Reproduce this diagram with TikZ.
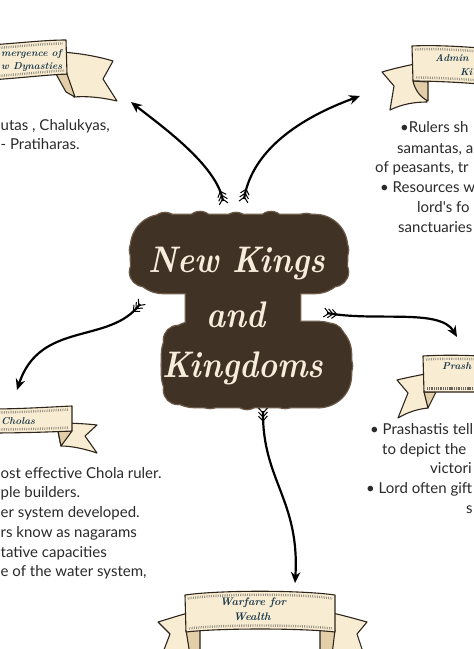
\documentclass[tikz,border=0pt]{standalone}
\usepackage{fontspec}
\newfontfamily\bodyfont{Lato}
\usetikzlibrary{arrows.meta,decorations.markings}
\definecolor{blob}{HTML}{413226}
\definecolor{blobrim}{HTML}{6E5C4B}
\definecolor{cream}{HTML}{F6EEDA}
\definecolor{parch}{HTML}{F8EDD2}
\definecolor{parchdark}{HTML}{E2CFA9}
\definecolor{inkline}{HTML}{2E251C}
\definecolor{bannertext}{HTML}{1F3B4D}
\definecolor{bodytext}{HTML}{2A2A2A}
\newcommand\fletchmark{\draw[line width=1pt,-] (-5pt,4.5pt) -- (0pt,0pt) -- (-5pt,-4.5pt);}
\newcommand\blobpieces[1]{%
  \path[#1,rounded corners=32pt] (131,215) rectangle (347,293);
  \path[#1,rounded corners=32pt] (162,322) rectangle (351,407);
  \path[#1,rounded corners=8pt] (186,280) rectangle (300,338);
  \foreach \bx/\by/\br in {165/227/14,200/226/14,236/227/14,271/226/14,306/228/14,
                           144/250/14,144/272/14,334/250/14,334/272/14,
                           178/340/14,212/336/12,330/338/14,176/365/14,178/390/14,
                           210/394/14,247/395/14,285/394/14,320/393/14,338/366/14}
    {\path[#1] (\bx,\by) circle (\br pt);}
}
\tikzset{
  conn/.style={line width=2.2pt, -{Stealth[length=11pt,width=9.5pt]},
    postaction={decorate},
    decoration={markings,
      mark=at position 2pt with {\fletchmark},
      mark=at position 6pt with {\fletchmark},
      mark=at position 10pt with {\fletchmark}}},
  ribbon/.style={fill=parch, draw=inkline, line width=1.1pt, line join=round},
  ribbonfold/.style={fill=parchdark, draw=inkline, line width=1.1pt, line join=round},
  hatch/.style={draw=inkline!70, line width=2.4pt, dash pattern=on 0.5pt off 1.3pt},
  bantxt/.style={font=\fontsize{10}{12}\selectfont\bfseries\itshape, text=bannertext, inner sep=0pt},
  bodytxt/.style={font=\bodyfont\fontsize{15}{18}\selectfont, text=bodytext, inner sep=0pt},
  titletxt/.style={font=\fontsize{37}{40}\selectfont\bfseries\itshape, text=cream, inner sep=0pt},
}
\begin{document}
\begin{tikzpicture}[x=1pt,y=-1pt]
\useasboundingbox (0,0) rectangle (474,649);
\fill[white] (0,0) rectangle (474,649);
\clip (0,0) rectangle (474,649);

% ---------- central title blob ----------
\blobpieces{draw=blobrim,line width=2.6pt}
\blobpieces{fill=blob}
\node[titletxt,anchor=base] (title1) at (237,272) {\scalebox{0.87}[1]{New Kings}};
\node[titletxt,anchor=base] (title2) at (236,327) {\scalebox{0.87}[1]{and}};
\node[titletxt,anchor=base] (title3) at (243,377) {\scalebox{0.87}[1]{Kingdoms}};

% ---------- banner A: Emergence of New Dynasties (top left) ----------
\path[ribbon] (60,52) .. controls (80,53) and (100,57) .. (113,61) -- (103,79) -- (117,101)
  .. controls (100,97) and (85,96) .. (74,97) -- (62,78) -- cycle;
\path[ribbonfold] (56,74) -- (67,74) -- (75,97) -- (66,92) -- cycle;
\path[ribbon] (-10,45) .. controls (20,43) and (45,40) .. (66,40) -- (67,74)
  .. controls (45,75) and (20,78) .. (-10,80) -- cycle;
\draw[hatch] (-10,48.5) .. controls (20,46.5) and (45,43.5) .. (63,43.5);
\draw[hatch] (-10,76.5) .. controls (20,74.5) and (45,71.5) .. (64,70.5);
\node[bantxt,anchor=west] (banA1) at (1,54) {mergence of};
\node[bantxt,anchor=west] (banA2) at (1,67) {w Dynasties};

% ---------- banner B: Administration (top right) ----------
\path[ribbon] (415,64) .. controls (405,66) and (392,69) .. (382,72) -- (394,86) -- (390,110)
  .. controls (402,104) and (415,102) .. (427,102) -- (420,80) -- cycle;
\path[ribbonfold] (413,81) .. controls (415,90) and (420,97) .. (428,101) -- (428,82) -- cycle;
\path[ribbon] (412,46) .. controls (430,45) and (455,46) .. (480,48) -- (480,84)
  .. controls (455,82) and (430,81) .. (413,81) -- cycle;
\draw[hatch] (415,49.5) .. controls (430,48.5) and (455,49.5) .. (480,51.5);
\draw[hatch] (416,77.5) .. controls (430,77.5) and (455,78.5) .. (480,80.5);
\node[bantxt,anchor=west] (banB1) at (435,58) {Admin};
\node[bantxt,anchor=west] (banB2) at (460,72) {Ki};

% ---------- banner C: Cholas (bottom left) ----------
\path[ribbon] (58,423) .. controls (75,423) and (88,424) .. (97,425) -- (85,436) -- (97,453)
  .. controls (85,449) and (72,446) .. (61,446) -- (58,431) -- cycle;
\path[ribbonfold] (58,431) -- (72,431) -- (61,446) -- cycle;
\path[ribbon] (-10,409) .. controls (20,409) and (50,407) .. (72,406) -- (72,431)
  .. controls (50,432) and (20,433) .. (-10,433) -- cycle;
\draw[hatch] (-10,412.5) .. controls (20,412.5) and (50,410.5) .. (69,409.5);
\draw[hatch] (-10,429.5) .. controls (20,429.5) and (50,428.5) .. (69,427.5);
\node[bantxt,anchor=west] (banC) at (1,421) {Cholas};

% ---------- banner D: Prashastis (bottom right) ----------
\path[ribbon] (425,374) .. controls (415,376) and (405,378) .. (397,380) -- (408,393) -- (398,418)
  .. controls (408,412) and (418,409) .. (428,408) -- (427,392) -- cycle;
\path[ribbonfold] (424,392) -- (436,392) -- (428,408) -- cycle;
\path[ribbon] (423,356) .. controls (440,355) and (460,355) .. (480,356) -- (480,392)
  .. controls (460,392) and (440,392) .. (424,392) -- cycle;
\draw[hatch] (426,359.5) .. controls (440,358.5) and (460,358.5) .. (480,359.5);
\draw[hatch] (427,388.5) .. controls (440,388.5) and (460,388.5) .. (480,388.5);
\node[bantxt,anchor=west] (banD) at (442,366) {Prash};

% ---------- banner E: Warfare for Wealth (bottom) ----------
\path[ribbon] (192,612) .. controls (180,615) and (168,619) .. (158,622) -- (170,634) -- (162,655)
  -- (200,655) -- (196,630) -- cycle;
\path[ribbon] (328,612) .. controls (342,615) and (356,619) .. (367,622) -- (357,634) -- (364,655)
  -- (322,655) -- (324,630) -- cycle;
\path[ribbonfold] (186,630) -- (200,630) -- (200,655) -- (190,655) -- cycle;
\path[ribbonfold] (320,630) -- (335,630) -- (332,655) -- (320,655) -- cycle;
\path[ribbon] (185,595) .. controls (220,590) and (300,590) .. (335,595) -- (335,632)
  .. controls (300,628) and (220,628) .. (186,632) -- cycle;
\draw[hatch] (188,598.5) .. controls (220,593.5) and (300,593.5) .. (332,598.5);
\draw[hatch] (189,628.5) .. controls (220,624.5) and (300,624.5) .. (332,628.5);
\node[bantxt,anchor=center,font=\fontsize{11}{12}\selectfont\bfseries\itshape] (banE1) at (253,603) {Warfare for};
\node[bantxt,anchor=center,font=\fontsize{11}{12}\selectfont\bfseries\itshape] (banE2) at (252,617) {Wealth};

% ---------- body texts ----------
\node[bodytxt,anchor=base west] (tA1) at (0.5,130) {utas , Chalukyas,};
\node[bodytxt,anchor=base west] (tA2) at (0.5,149) {- Pratiharas.};

\node[bodytxt,anchor=base west] (tB1) at (400,132) {\textbullet Rulers sh};
\node[bodytxt,anchor=base west] (tB2) at (397,153) {samantas, a};
\node[bodytxt,anchor=base west] (tB3) at (375,172) {of peasants, tr};
\node[bodytxt,anchor=base west] (tB4) at (380,192) {\textbullet{} Resources w};
\node[bodytxt,anchor=base west] (tB5) at (417,212) {lord's fo};
\node[bodytxt,anchor=base west] (tB6) at (398,232) {sanctuaries};

\node[bodytxt,anchor=base west] (tC1) at (0.5,478) {ost effective Chola ruler.};
\node[bodytxt,anchor=base west] (tC2) at (0.5,497) {ple builders.};
\node[bodytxt,anchor=base west] (tC3) at (0.5,517) {er system developed.};
\node[bodytxt,anchor=base west] (tC4) at (0.5,537) {rs know as nagarams};
\node[bodytxt,anchor=base west] (tC5) at (0.5,557) {tative capacities};
\node[bodytxt,anchor=base west] (tC6) at (0.5,576) {e of the water system,};

\node[bodytxt,anchor=base west] (tD1) at (370,434) {\textbullet{} Prashastis tell};
\node[bodytxt,anchor=base west] (tD2) at (382,454) {to depict the};
\node[bodytxt,anchor=base west] (tD3) at (430,473) {victori};
\node[bodytxt,anchor=base west] (tD4) at (366,493) {\textbullet{} Lord often gift};
\node[bodytxt,anchor=base west] (tD5) at (466,513) {s};

% ---------- connectors ----------
\coordinate (a1s) at (223,201); \coordinate (a1e) at (131,102);
\coordinate (a2s) at (244,199); \coordinate (a2e) at (360,96);
\coordinate (a3s) at (140,304); \coordinate (a3e) at (17,390);
\coordinate (a4s) at (327,313); \coordinate (a4e) at (457,337);
\coordinate (a5s) at (263,411); \coordinate (a5e) at (295,583);
\draw[conn] (a1s) .. controls (217,165) and (160,125) .. (a1e);
\draw[conn] (a2s) .. controls (252,150) and (300,118) .. (a2e);
\draw[conn] (a3s) .. controls (110,345) and (40,320) .. (a3e);
\draw[conn] (a4s) .. controls (375,322) and (440,308) .. (a4e);
\draw[conn] (a5s) .. controls (262,480) and (300,500) .. (a5e);
\end{tikzpicture}
\end{document}
